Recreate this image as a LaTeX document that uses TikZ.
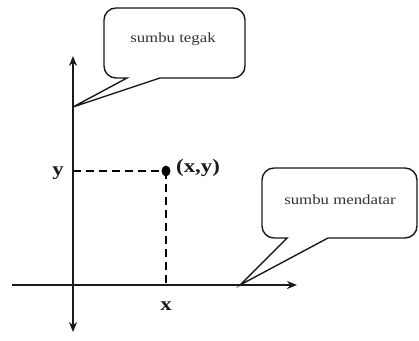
\documentclass[tikz,border=0pt]{standalone}
\usepackage{fontspec}
\setmainfont{Liberation Serif}[FakeStretch=1.2]
\usetikzlibrary{arrows.meta,shapes.geometric}
\definecolor{ink}{HTML}{1A1A1A}
\definecolor{txt}{HTML}{333333}
\tikzset{
  axis/.style={draw=ink, line width=1.7pt, -{Stealth[length=10pt,width=8pt]}},
  guide/.style={draw=black, line width=2.8pt, dash pattern=on 8pt off 5pt},
  callout/.style={draw=ink, line width=1.4pt, fill=white},
  calltext/.style={font=\fontsize{14}{16}\selectfont, text=txt},
  lbl/.style={font=\fontsize{19}{21}\selectfont\bfseries, text=ink, inner sep=0pt}
}
\begin{document}
\begin{tikzpicture}[x=1pt,y=-1pt]
\useasboundingbox (0,0) rectangle (419,340);
% axes
\coordinate (O) at (73,285);
\coordinate (ytop) at (73,56);
\coordinate (ybot) at (73,332);
\coordinate (xl) at (12,285);
\coordinate (xr) at (297,285);
\draw[axis] (O) -- (ytop);
\draw[axis] (O) -- (ybot);
\draw[draw=ink, line width=1.7pt] (xl) -- (O);
\draw[axis] (O) -- (xr);
% point and guides
\coordinate (P) at (166,171);
\coordinate (Py) at (73,171);
\coordinate (Px) at (166,285);
\draw[guide] (Py) -- (P);
\draw[guide] (P) -- (Px);
\node[fill=black, ellipse, minimum width=9pt, minimum height=11pt, inner sep=0pt] (dot) at (P) {};
\node[lbl] (ylab) at (58,173) {y};
\node[lbl] (xylab) at (198,168) {(x,y)};
\node[lbl] (xlab) at (166,306) {x};
% callout 1
\coordinate (tip1) at (73,107);
\draw[callout] (160,78) [rounded corners=12pt] -- (245,78) -- (245,8) -- (104,8) -- (104,78) [sharp corners] -- (127,78) -- (tip1) -- cycle;
\node[calltext] (c1) at (173,39) {sumbu tegak};
% callout 2
\coordinate (tip2) at (240,285);
\draw[callout] (328,238) [rounded corners=12pt] -- (417,238) -- (417,168) -- (262,168) -- (262,238) [sharp corners] -- (287,238) -- (tip2) -- cycle;
\node[calltext] (c2) at (340,200) {sumbu mendatar};
\end{tikzpicture}
\end{document}
